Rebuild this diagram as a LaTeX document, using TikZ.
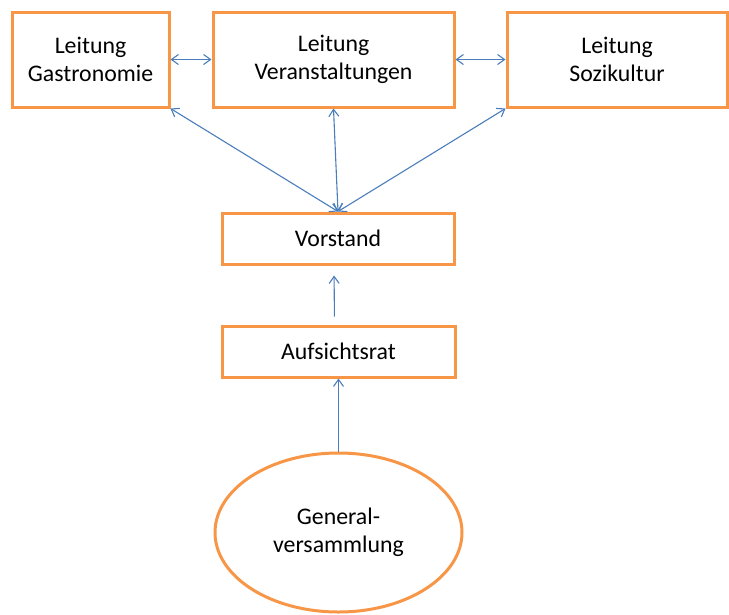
\documentclass[tikz,border=0pt]{standalone}
\usepackage{fontspec}
\setmainfont{Carlito}
\usetikzlibrary{shapes.geometric,arrows.meta}
\definecolor{boxorange}{RGB}{247,150,70}
\definecolor{linkblue}{RGB}{74,126,187}

\begin{document}
\begin{tikzpicture}[x=1pt, y=-1pt,
	box/.style={draw=boxorange, line width=3pt, inner sep=0pt, align=center,
		font=\fontsize{23.8}{28.5}\selectfont},
	link/.style={draw=linkblue, line width=1.1pt, >={Straight Barb[length=7pt,width=10pt]}}]
	\useasboundingbox (0, 0) rectangle (729, 614);

	\node[box, minimum width=157, minimum height=95] (gastro) at (90.5, 59.5) {Leitung\\Gastronomie};
	\node[box, minimum width=241, minimum height=95] (veran) at (333.5, 59.5) {Leitung\\Veranstaltungen};
	\node[box, minimum width=220, minimum height=95] (sozi) at (617, 59.5) {Leitung\\Sozikultur};

	\node[box, minimum width=232, minimum height=51] (vorstand) at (338, 238.5) {Vorstand};
	\node[box, minimum width=233, minimum height=51] (aufsicht) at (338.5, 351.5) {Aufsichtsrat};
	\node[box, ellipse, minimum width=247, minimum height=159] (gv) at (338.5, 532.5) {General-\\versammlung};

	\draw[link, <->] (gastro) -- (veran);
	\draw[link, <->] (veran) -- (sozi);

	\foreach \n/\a in {gastro/south east, veran/south, sozi/south west} {
		\draw[link, <->] (vorstand.north) -- (\n.\a);
	}

	\draw[link, ->, shorten <=8pt, shorten >=10pt] ([xshift=-4pt]aufsicht.north) -- ([xshift=-4pt]vorstand.south);
	\draw[link, ->] (gv) -- (aufsicht);

\end{tikzpicture}
\end{document}
